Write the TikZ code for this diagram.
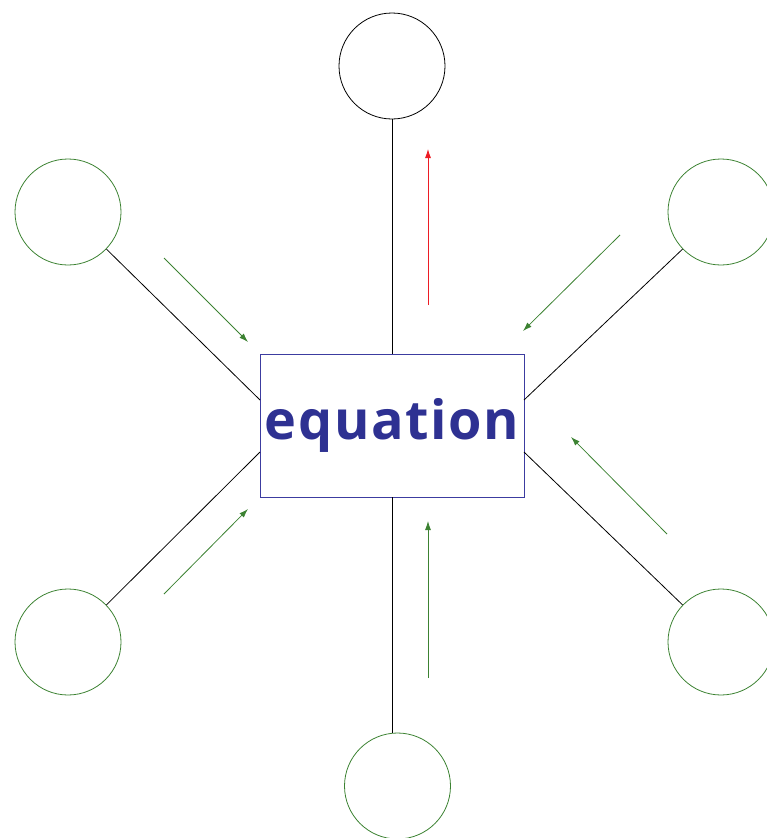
\documentclass[tikz,border=0pt]{standalone}
\usepackage{fontspec}
\newfontfamily\eqfont{Open Sans}[LetterSpace=3]
\usetikzlibrary{arrows.meta,calc}
\definecolor{eqblue}{RGB}{46,49,146}
\definecolor{boxblue}{RGB}{60,60,160}
\definecolor{cgreen}{RGB}{60,130,50}
\definecolor{cred}{RGB}{237,28,36}
\tikzset{
  circ/.style={circle,draw=cgreen,line width=0.8pt,minimum size=106pt,inner sep=0pt},
  topcirc/.style={circle,draw=black,line width=0.8pt,minimum size=106pt,inner sep=0pt},
  link/.style={draw=black,line width=0.8pt},
  garrow/.style={draw=cgreen,line width=0.8pt,-{Latex[length=9pt,width=6pt]}},
  rarrow/.style={draw=cred,line width=0.8pt,-{Latex[length=9pt,width=6pt]}},
  eqbox/.style={draw=boxblue,line width=0.6pt,minimum width=264pt,minimum height=143pt,inner sep=0pt,text=eqblue,font=\eqfont\bfseries\fontsize{54}{60}\selectfont}
}
\begin{document}
\begin{tikzpicture}[x=1pt,y=-1pt]
\useasboundingbox (0,0) rectangle (767,838);
\node[eqbox] (eq) at (392,425.5) {\raisebox{-3pt}{equation}};
\node[topcirc] (t) at (392,66) {};
\node[circ] (lt) at (68,212) {};
\node[circ] (rt) at (721,212) {};
\node[circ] (lb) at (68,642) {};
\node[circ] (rb) at (721,642) {};
\node[circ] (b) at (397.5,786) {};
\coordinate (pl1) at (260,400);
\coordinate (pl2) at (260,452);
\coordinate (pr1) at (524,400);
\coordinate (pr2) at (524,452);
\coordinate (pb) at (392,497);
\coordinate (bt) at (392,732.5);
\draw[link] (eq.north) -- (t.south);
\draw[link] (pb) -- (bt);
\draw[link] (lt.-44) -- (pl1);
\draw[link] (lb.44) -- (pl2);
\draw[link] (rt.-136) -- (pr1);
\draw[link] (rb.136) -- (pr2);
% arrows
\coordinate (r0) at (428,305); \coordinate (r1) at (428,149);
\draw[rarrow] (r0) -- (r1);
\coordinate (a0) at (164,258); \coordinate (a1) at (248,342);
\draw[garrow] (a0) -- (a1);
\coordinate (b0) at (620,235); \coordinate (b1) at (523,331);
\draw[garrow] (b0) -- (b1);
\coordinate (c0) at (667,534); \coordinate (c1) at (571,437);
\draw[garrow] (c0) -- (c1);
\coordinate (d0) at (164,594); \coordinate (d1) at (248,509);
\draw[garrow] (d0) -- (d1);
\coordinate (e0) at (428,678); \coordinate (e1) at (428,521);
\draw[garrow] (e0) -- (e1);
\end{tikzpicture}
\end{document}
